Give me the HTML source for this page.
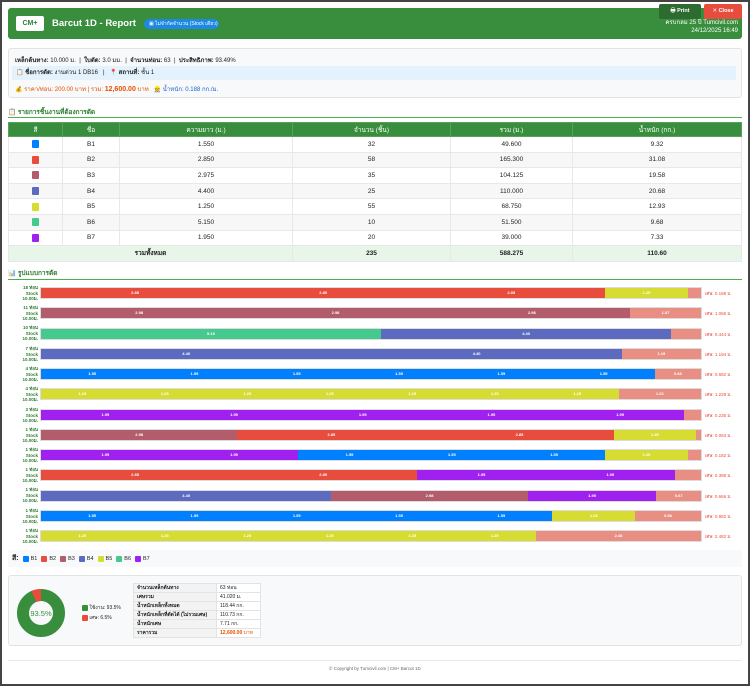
<!DOCTYPE html>
<html><head><meta charset="utf-8">
<style>
*{box-sizing:border-box;margin:0;padding:0}
body{width:750px;height:686px;overflow:hidden;background:#fff;font-family:"Liberation Sans","DejaVu Sans",sans-serif;color:#222;position:relative}
.frame{position:absolute;left:0;top:0;width:750px;height:686px;border:2px solid #444;}
.abs{position:absolute}
.hdr{left:8px;top:8px;width:734px;height:31px;background:#388e3c;border-radius:3px}
.logo{left:16px;top:16px;width:28px;height:15px;background:#fff;border-radius:2px;font-size:7px;font-weight:bold;color:#2e7d32;text-align:center;line-height:15px}
.title{left:52px;top:18px;color:#fff;font-weight:bold;font-size:9.5px}
.badge{left:144px;top:19px;width:75px;height:10px;background:#1e88e5;border-radius:5px;color:#fff;font-size:5px;line-height:10px;padding-left:5px}
.btnp{left:659px;top:4px;width:42px;height:15px;background:#2e6b30;color:#fff;font-size:5.5px;font-weight:bold;text-align:center;line-height:15px;border-radius:2px}
.btnc{left:704px;top:4px;width:38px;height:15px;background:#e84c3d;color:#fff;font-size:5.5px;font-weight:bold;text-align:center;line-height:15px;border-radius:2px}
.rt{right:12px;top:20px;color:#fff;font-size:6px;text-align:right;line-height:7.5px}
.info{left:8px;top:48px;width:734px;height:50px;background:#f8f9fa;border:1px solid #e3e3e3;border-radius:3px}
.small{font-size:6px}
.sec{font-size:6.5px;font-weight:bold;color:#2e7d32}
.line{height:1px;background:#4caf50}
table{border-collapse:collapse;font-size:6.5px}
.t1{left:8px;top:122px;width:734px}
.t1 td,.t1 th{height:15.6px;text-align:center;border:1px solid #e8e8e8}
.t1 th{background:#388e3c;color:#fff;font-weight:normal;height:14px;border-color:#5aa05d}
.t1 tr:nth-child(odd) td{background:#f7f7f7}
.t1 tr.tot td{background:#e8f5e9;font-weight:bold}
.sw{display:inline-block;width:7px;height:8px;border-radius:1px;vertical-align:middle}
.lbl{left:8px;width:30px;text-align:right;font-size:4.5px;color:#2e7d32;font-weight:bold;line-height:5.6px}
.bar{left:40px;width:662px;height:12px;border:1px solid #dcdcdc;background:#eee;display:flex}
.bar div{height:100%;color:#fff;font-size:4px;font-weight:bold;text-align:center;line-height:10px;overflow:hidden}
.w{left:705px;font-size:4.5px;color:#e84c3d}
.a{background:#0080ff}.b{background:#e84c3d}.c{background:#b35c6b}.d{background:#5c6bc0}.e{background:#d6dc32}.f{background:#45c98f}.g{background:#a020f0}.x{background:#e88e82}
.leg{left:8px;top:550px;width:734px;height:17px;background:#f8f9fa;font-size:5.5px;line-height:17px;padding-left:4px}
.leg span.sw{width:6px;height:6px;margin:0 2px 0 4px}
.sum{left:8px;top:575px;width:734px;height:71px;background:#f8f9fa;border:1px solid #e3e3e3;border-radius:3px}
.t2{left:133px;top:583px;font-size:5px;background:#fff}
.t2 td{border:1px solid #e3e3e3;height:9px;padding:0 3px}
.t2 td:first-child{width:83px;font-weight:bold;background:#f3f3f3}
.t2 td:last-child{width:44px}
</style></head><body>
<div class="frame"></div>
<div class="abs hdr"></div>
<div class="abs logo">CM+</div>
<div class="abs title">Barcut 1D - Report</div>
<div class="abs badge">▣ ไม่จำกัดจำนวน (Stock เดียว)</div>
<div class="abs btnp">🖶 Print</div>
<div class="abs btnc">✕ Close</div>
<div class="abs rt">ครบกลม 25 ปี Tumcivil.com<br>24/12/2025 16:49</div>

<div class="abs info"></div>
<div class="abs small" style="left:15px;top:55px"><b>เหล็กต้นทาง:</b> 10.000 ม. &nbsp;| &nbsp;<b>ใบตัด:</b> 3.0 มม. &nbsp;| &nbsp;<b>จำนวนท่อน:</b> 63 &nbsp;| &nbsp;<b>ประสิทธิภาพ:</b> 93.49%</div>
<div class="abs small" style="left:12px;top:66px;width:724px;height:14px;background:#e3f2fd;line-height:14px;padding-left:4px">📋 <b>ชื่อการตัด:</b> งานด่วน 1 DB16 &nbsp; | &nbsp; 📍 <b>สถานที่:</b> ชั้น 1</div>
<div class="abs small" style="left:15px;top:84px;color:#e65100">💰 ราคา/ท่อน: 200.00 บาท | รวม: <b style="font-size:7px">12,600.00</b> บาท &nbsp; <span style="color:#1e63c9">👷 น้ำหนัก: 0.188 กก./ม.</span></div>

<div class="abs sec" style="left:8px;top:107px">📋 รายการชิ้นงานที่ต้องการตัด</div>
<div class="abs line" style="left:8px;top:117px;width:734px"></div>

<table class="abs t1">
<tr><th style="width:54px">สี</th><th style="width:57px">ชื่อ</th><th style="width:173px">ความยาว (ม.)</th><th style="width:158px">จำนวน (ชิ้น)</th><th style="width:122px">รวม (ม.)</th><th>น้ำหนัก (กก.)</th></tr>
<tr><td><span class="sw a"></span></td><td>B1</td><td>1.550</td><td>32</td><td>49.600</td><td>9.32</td></tr>
<tr><td><span class="sw b"></span></td><td>B2</td><td>2.850</td><td>58</td><td>165.300</td><td>31.08</td></tr>
<tr><td><span class="sw c"></span></td><td>B3</td><td>2.975</td><td>35</td><td>104.125</td><td>19.58</td></tr>
<tr><td><span class="sw d"></span></td><td>B4</td><td>4.400</td><td>25</td><td>110.000</td><td>20.68</td></tr>
<tr><td><span class="sw e"></span></td><td>B5</td><td>1.250</td><td>55</td><td>68.750</td><td>12.93</td></tr>
<tr><td><span class="sw f"></span></td><td>B6</td><td>5.150</td><td>10</td><td>51.500</td><td>9.68</td></tr>
<tr><td><span class="sw g"></span></td><td>B7</td><td>1.950</td><td>20</td><td>39.000</td><td>7.33</td></tr>
<tr class="tot"><td colspan="3">รวมทั้งหมด</td><td>235</td><td>588.275</td><td>110.60</td></tr>
</table>

<div class="abs sec" style="left:8px;top:268px">📊 รูปแบบการตัด</div>
<div class="abs line" style="left:8px;top:279px;width:734px"></div>

<div class="abs lbl" style="top:285px">18 ท่อน<br>Stock<br>10.00ม.</div>
<div class="abs bar" style="top:287px"><div class="b" style="width:28.5%">2.85</div><div class="b" style="width:28.5%">2.85</div><div class="b" style="width:28.5%">2.85</div><div class="e" style="width:12.5%">1.25</div><div class="x" style="width:2%"></div></div>
<div class="abs w" style="top:290px">เศษ: 0.188 ม.</div>

<div class="abs lbl" style="top:305px">11 ท่อน<br>Stock<br>10.00ม.</div>
<div class="abs bar" style="top:307px"><div class="c" style="width:29.75%">2.98</div><div class="c" style="width:29.75%">2.98</div><div class="c" style="width:29.75%">2.98</div><div class="x" style="width:10.75%">1.07</div></div>
<div class="abs w" style="top:310px">เศษ: 1.066 ม.</div>

<div class="abs lbl" style="top:325px">10 ท่อน<br>Stock<br>10.00ม.</div>
<div class="abs bar" style="top:328px"><div class="f" style="width:51.5%">5.15</div><div class="d" style="width:44%">4.40</div><div class="x" style="width:4.5%"></div></div>
<div class="abs w" style="top:331px">เศษ: 0.444 ม.</div>

<div class="abs lbl" style="top:346px">7 ท่อน<br>Stock<br>10.00ม.</div>
<div class="abs bar" style="top:348px"><div class="d" style="width:44%">4.40</div><div class="d" style="width:44%">4.40</div><div class="x" style="width:12%">1.19</div></div>
<div class="abs w" style="top:351px">เศษ: 1.194 ม.</div>

<div class="abs lbl" style="top:366px">4 ท่อน<br>Stock<br>10.00ม.</div>
<div class="abs bar" style="top:368px"><div class="a" style="width:15.5%">1.55</div><div class="a" style="width:15.5%">1.55</div><div class="a" style="width:15.5%">1.55</div><div class="a" style="width:15.5%">1.55</div><div class="a" style="width:15.5%">1.55</div><div class="a" style="width:15.5%">1.55</div><div class="x" style="width:7%">0.68</div></div>
<div class="abs w" style="top:371px">เศษ: 0.682 ม.</div>

<div class="abs lbl" style="top:386px">4 ท่อน<br>Stock<br>10.00ม.</div>
<div class="abs bar" style="top:388px"><div class="e" style="width:12.5%">1.25</div><div class="e" style="width:12.5%">1.25</div><div class="e" style="width:12.5%">1.25</div><div class="e" style="width:12.5%">1.25</div><div class="e" style="width:12.5%">1.25</div><div class="e" style="width:12.5%">1.25</div><div class="e" style="width:12.5%">1.25</div><div class="x" style="width:12.5%">1.23</div></div>
<div class="abs w" style="top:391px">เศษ: 1.229 ม.</div>

<div class="abs lbl" style="top:407px">3 ท่อน<br>Stock<br>10.00ม.</div>
<div class="abs bar" style="top:409px"><div class="g" style="width:19.5%">1.95</div><div class="g" style="width:19.5%">1.95</div><div class="g" style="width:19.5%">1.95</div><div class="g" style="width:19.5%">1.95</div><div class="g" style="width:19.5%">1.95</div><div class="x" style="width:2.5%"></div></div>
<div class="abs w" style="top:412px">เศษ: 0.235 ม.</div>

<div class="abs lbl" style="top:427px">1 ท่อน<br>Stock<br>10.00ม.</div>
<div class="abs bar" style="top:429px"><div class="c" style="width:29.75%">2.98</div><div class="b" style="width:28.5%">2.85</div><div class="b" style="width:28.5%">2.85</div><div class="e" style="width:12.5%">1.25</div><div class="x" style="width:0.75%"></div></div>
<div class="abs w" style="top:432px">เศษ: 0.063 ม.</div>

<div class="abs lbl" style="top:447px">1 ท่อน<br>Stock<br>10.00ม.</div>
<div class="abs bar" style="top:449px"><div class="g" style="width:19.5%">1.95</div><div class="g" style="width:19.5%">1.95</div><div class="a" style="width:15.5%">1.55</div><div class="a" style="width:15.5%">1.55</div><div class="a" style="width:15.5%">1.55</div><div class="e" style="width:12.5%">1.25</div><div class="x" style="width:2%"></div></div>
<div class="abs w" style="top:452px">เศษ: 0.182 ม.</div>

<div class="abs lbl" style="top:467px">1 ท่อน<br>Stock<br>10.00ม.</div>
<div class="abs bar" style="top:469px"><div class="b" style="width:28.5%">2.85</div><div class="b" style="width:28.5%">2.85</div><div class="g" style="width:19.5%">1.95</div><div class="g" style="width:19.5%">1.95</div><div class="x" style="width:4%"></div></div>
<div class="abs w" style="top:472px">เศษ: 0.388 ม.</div>

<div class="abs lbl" style="top:487px">1 ท่อน<br>Stock<br>10.00ม.</div>
<div class="abs bar" style="top:490px"><div class="d" style="width:44%">4.40</div><div class="c" style="width:29.75%">2.98</div><div class="g" style="width:19.5%">1.95</div><div class="x" style="width:6.75%">0.67</div></div>
<div class="abs w" style="top:493px">เศษ: 0.666 ม.</div>

<div class="abs lbl" style="top:508px">1 ท่อน<br>Stock<br>10.00ม.</div>
<div class="abs bar" style="top:510px"><div class="a" style="width:15.5%">1.55</div><div class="a" style="width:15.5%">1.55</div><div class="a" style="width:15.5%">1.55</div><div class="a" style="width:15.5%">1.55</div><div class="a" style="width:15.5%">1.55</div><div class="e" style="width:12.5%">1.25</div><div class="x" style="width:10%">0.98</div></div>
<div class="abs w" style="top:513px">เศษ: 0.982 ม.</div>

<div class="abs lbl" style="top:528px">1 ท่อน<br>Stock<br>10.00ม.</div>
<div class="abs bar" style="top:530px"><div class="e" style="width:12.5%">1.25</div><div class="e" style="width:12.5%">1.25</div><div class="e" style="width:12.5%">1.25</div><div class="e" style="width:12.5%">1.25</div><div class="e" style="width:12.5%">1.25</div><div class="e" style="width:12.5%">1.25</div><div class="x" style="width:25%">2.48</div></div>
<div class="abs w" style="top:533px">เศษ: 2.482 ม.</div>

<div class="abs leg"><b style="font-size:7px">สี:</b><span class="sw a"></span>B1<span class="sw b"></span>B2<span class="sw c"></span>B3<span class="sw d"></span>B4<span class="sw e"></span>B5<span class="sw f"></span>B6<span class="sw g"></span>B7</div>

<div class="abs sum"></div>
<svg class="abs" style="left:15px;top:587px" width="52" height="52" viewBox="0 0 52 52">
<circle cx="26" cy="26" r="18" fill="none" stroke="#388e3c" stroke-width="12"/>
<circle cx="26" cy="26" r="18" fill="none" stroke="#e84c3d" stroke-width="12" stroke-dasharray="7.35 113.1" transform="rotate(-113.4 26 26)"/>
<text x="26" y="29" font-size="7.5" text-anchor="middle" fill="#388e3c" font-family="Liberation Sans,sans-serif">93.5%</text>
</svg>
<div class="abs" style="left:82px;top:603px;font-size:5px;line-height:10px"><span class="sw" style="background:#388e3c;width:6px;height:6px"></span> ใช้งาน: 93.5%<br><span class="sw" style="background:#e84c3d;width:6px;height:6px"></span> เศษ: 6.5%</div>
<table class="abs t2">
<tr><td>จำนวนเหล็กต้นทาง</td><td>63 ท่อน</td></tr>
<tr><td>เศษรวม</td><td>41.020 ม.</td></tr>
<tr><td>น้ำหนักเหล็กทั้งหมด</td><td>118.44 กก.</td></tr>
<tr><td>น้ำหนักเหล็กที่ตัดได้ (ไม่รวมเศษ)</td><td>110.73 กก.</td></tr>
<tr><td>น้ำหนักเศษ</td><td>7.71 กก.</td></tr>
<tr><td>ราคารวม</td><td style="color:#e65100;font-weight:bold">12,600.00 <span style="font-weight:normal">บาท</span></td></tr>
</table>

<div class="abs" style="left:8px;top:660px;width:734px;height:1px;background:#e8e8e8"></div>
<div class="abs" style="left:0;top:666px;width:750px;text-align:center;font-size:4.5px;color:#666">© Copyright by Tumcivil.com | CM+ Barcut 1D</div>
</body></html>
